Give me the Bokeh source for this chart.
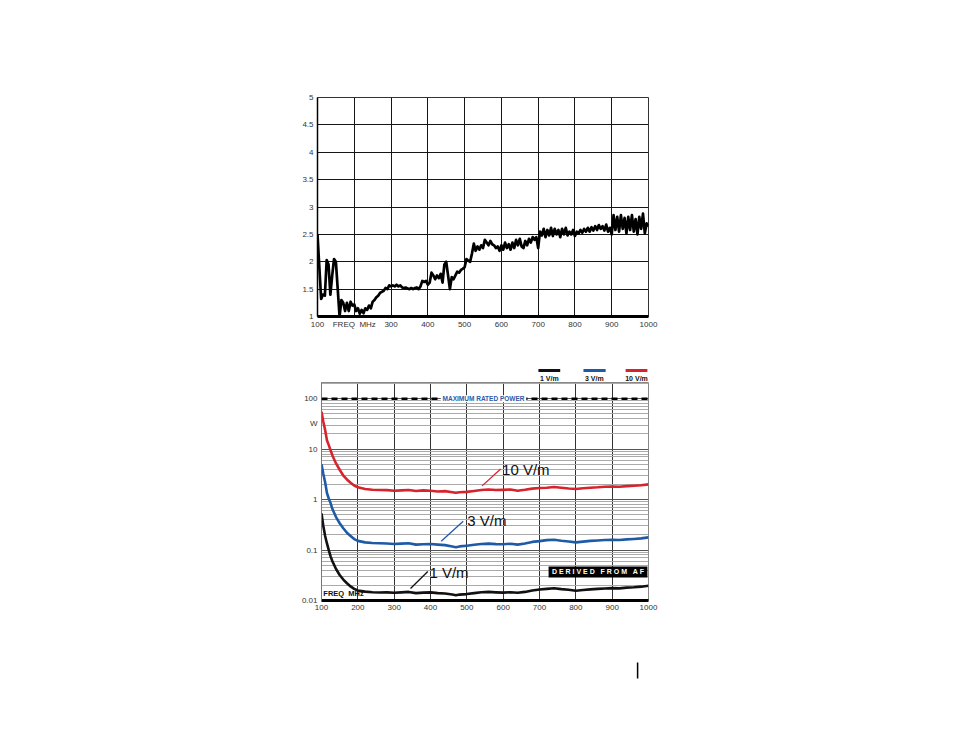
from bokeh.plotting import figure
from bokeh.layouts import column
from bokeh.models import (Range1d, FixedTicker, Label, BoxAnnotation, Span,
                          CustomJSTickFormatter)
from bokeh.core.properties import value
from bokeh.embed import file_html
from bokeh.resources import INLINE

FONT = "Liberation Sans"
NB = "\u00a0"

# ---------------- data: top chart (VSWR vs frequency) ----------------
freq_top = list(range(100, 1001, 5))
vswr_top = [
    2.50, 1.90, 1.32, 1.40, 1.38, 2.03, 1.95, 1.40, 1.75, 2.05,   # 100-145
    2.00, 1.50, 1.00, 1.30, 1.25, 1.10, 1.25, 1.10, 1.27, 1.20,   # 150-195
    1.22, 1.10, 1.15, 1.05, 1.12, 1.06, 1.15, 1.12, 1.20, 1.15,   # 200-245
    1.27, 1.30, 1.35, 1.38, 1.43, 1.45, 1.47, 1.52, 1.50, 1.57,   # 250-295
    1.55, 1.57, 1.55, 1.58, 1.55, 1.57, 1.53, 1.52, 1.53, 1.51,   # 300-345
    1.50, 1.52, 1.50, 1.52, 1.53, 1.50, 1.55, 1.65, 1.63, 1.65,   # 350-395
    1.58, 1.62, 1.80, 1.75, 1.68, 1.75, 1.70, 1.78, 1.62, 1.95,   # 400-445
    2.00, 1.75, 1.50, 1.72, 1.68, 1.75, 1.82, 1.80, 1.85, 1.87,   # 450-495
    1.90, 2.05, 2.02, 2.00, 2.15, 2.33, 2.20, 2.28, 2.22, 2.30,   # 500-545
    2.25, 2.40, 2.35, 2.30, 2.38, 2.32, 2.30, 2.25, 2.28, 2.20,   # 550-595
    2.30, 2.22, 2.35, 2.25, 2.32, 2.22, 2.35, 2.25, 2.40, 2.30,   # 600-645
    2.42, 2.28, 2.25, 2.38, 2.30, 2.42, 2.35, 2.45, 2.40, 2.45,   # 650-695
    2.25, 2.55, 2.48, 2.60, 2.45, 2.58, 2.48, 2.62, 2.47, 2.60,   # 700-745
    2.50, 2.58, 2.45, 2.60, 2.50, 2.62, 2.48, 2.55, 2.50, 2.58,   # 750-795
    2.47, 2.55, 2.52, 2.58, 2.53, 2.60, 2.55, 2.62, 2.55, 2.63,   # 800-845
    2.57, 2.65, 2.58, 2.67, 2.60, 2.65, 2.57, 2.68, 2.55, 2.62,   # 850-895
    2.50, 2.85, 2.58, 2.82, 2.55, 2.85, 2.60, 2.80, 2.52, 2.82,   # 900-945
    2.58, 2.85, 2.55, 2.78, 2.50, 2.82, 2.60, 2.88, 2.52, 2.70,   # 950-995
    2.65,                                                         # 1000
]
top_x_ticks = [100, 200, 300, 400, 500, 600, 700, 800, 900, 1000]
top_y_ticks = [1, 1.5, 2, 2.5, 3, 3.5, 4, 4.5, 5]

# ---------------- data: bottom chart (power W vs frequency) ----------------
freq_w = [100, 105, 110, 115, 120, 125, 130, 140, 150, 160, 170, 180, 190, 200,
          220, 240, 260, 280, 300, 320, 340, 360, 380, 400, 420, 440, 460,
          470, 480, 500, 520, 540, 560, 580, 600, 620, 640, 660, 680, 700,
          720, 740, 760, 780, 800, 820, 840, 860, 880, 900, 920, 940, 960,
          980, 1000]
power_10 = [55, 35, 24, 15, 12, 9.5, 7.5, 5.2, 3.9, 3.0, 2.5, 2.15, 1.9, 1.75,
            1.62, 1.57, 1.55, 1.54, 1.50, 1.52, 1.55, 1.48, 1.52, 1.50, 1.45,
            1.47, 1.40, 1.36, 1.40, 1.42, 1.48, 1.55, 1.58, 1.55, 1.56, 1.58,
            1.50, 1.56, 1.65, 1.70, 1.72, 1.78, 1.72, 1.66, 1.62, 1.68, 1.72,
            1.75, 1.80, 1.82, 1.80, 1.85, 1.88, 1.92, 2.00]
power_3 = [5.0, 3.2, 2.2, 1.35, 1.05, 0.85, 0.65, 0.45, 0.34, 0.27, 0.22, 0.19,
           0.165, 0.152, 0.142, 0.138, 0.136, 0.135, 0.132, 0.134, 0.136, 0.128,
           0.130, 0.132, 0.128, 0.125, 0.118, 0.114, 0.118, 0.122, 0.127, 0.132,
           0.134, 0.131, 0.130, 0.133, 0.128, 0.135, 0.145, 0.150, 0.157, 0.160,
           0.153, 0.148, 0.142, 0.147, 0.152, 0.155, 0.158, 0.160, 0.158, 0.163,
           0.166, 0.170, 0.178]
power_1 = [0.53, 0.30, 0.19, 0.135, 0.10, 0.075, 0.060, 0.042, 0.032, 0.026,
           0.022, 0.019, 0.017, 0.0158, 0.0150, 0.0146, 0.0144, 0.0145, 0.0142,
           0.0145, 0.0148, 0.0140, 0.0143, 0.0145, 0.0140, 0.0138, 0.0131,
           0.0127, 0.0131, 0.0134, 0.0140, 0.0146, 0.0148, 0.0145, 0.0143,
           0.0146, 0.0142, 0.0148, 0.0158, 0.0165, 0.0170, 0.0175, 0.0168,
           0.0163, 0.0156, 0.0162, 0.0166, 0.0170, 0.0173, 0.0176, 0.0174,
           0.0180, 0.0183, 0.0188, 0.0196]
series_names = ["1 V/m", "3 V/m", "10 V/m"]
series_colors = ["#111111", "#1f5aa6", "#d7232b"]
max_rated_power = 100
w_y_ticks = [0.01, 0.1, 1, 10, 100]
w_unit_tick = 31.6          # where the "W" unit sits on the power axis
w_y_minor = [m * d for d in [0.01, 0.1, 1, 10, 100] for m in range(2, 10)]


def style_axis(ax, standoff):
    ax.major_tick_line_color = None
    ax.minor_tick_line_color = None
    ax.major_tick_out = 0
    ax.major_tick_in = 0
    ax.minor_tick_out = 0
    ax.minor_tick_in = 0
    ax.major_label_text_font = FONT
    ax.major_label_text_font_size = "8px"
    ax.major_label_text_color = "#333333"
    ax.major_label_standoff = standoff


def strip(height, left, right):
    f = figure(width=946, height=height, output_backend="svg", toolbar_location=None,
               x_range=Range1d(100, 1000), y_range=Range1d(0, 1),
               x_axis_location=None, y_axis_location=None,
               min_border_left=left, min_border_right=right,
               min_border_top=0, min_border_bottom=0)
    f.grid.visible = False
    f.outline_line_color = None
    f.background_fill_color = "white"
    f.border_fill_color = "white"
    return f


# ---------------- top figure ----------------
p1 = figure(width=946, height=364, output_backend="svg", toolbar_location=None,
            x_range=Range1d(100, 1000), y_range=Range1d(1, 5),
            min_border_left=317, min_border_right=298,
            min_border_top=97, min_border_bottom=48)
p1.background_fill_color = "white"
p1.border_fill_color = "white"
p1.outline_line_color = "#333333"
p1.outline_line_width = 1

p1.xaxis.ticker = FixedTicker(ticks=top_x_ticks)
p1.xaxis.formatter = CustomJSTickFormatter(
    code="return tick == 200 ? 'FREQ\u00a0\u00a0MHz' : tick.toString();")
p1.yaxis.ticker = FixedTicker(ticks=top_y_ticks)
p1.yaxis.formatter = CustomJSTickFormatter(code="return tick.toString();")
p1.xgrid.ticker = FixedTicker(ticks=top_x_ticks)
p1.ygrid.ticker = FixedTicker(ticks=top_y_ticks)
for g in (p1.xgrid, p1.ygrid):
    g.grid_line_color = "#151515"
    g.grid_line_width = 1
style_axis(p1.xaxis, 3)
style_axis(p1.yaxis, 4)
p1.xaxis.axis_line_width = 3
p1.xaxis.axis_line_color = "black"
p1.yaxis.axis_line_width = 1.5
p1.yaxis.axis_line_color = "black"

p1.line(freq_top, vswr_top, line_color="black", line_width=2.7, line_join="round")

# ---------------- legend strip above the power chart ----------------
pl = strip(18, 321, 298)
leg_x0 = [697, 821, 937]
leg_x1 = [757, 882, 997]
leg_xc = [727, 851, 967]
pl.segment(x0=leg_x0, y0=[0.67] * 3, x1=leg_x1, y1=[0.67] * 3,
           line_color=series_colors, line_width=3)
pl.text(x=leg_xc, y=[0.22] * 3, text=series_names, text_font=value(FONT),
        text_font_size="7px", text_font_style="bold", text_color="#111111",
        text_align="center", text_baseline="middle")

# ---------------- bottom figure ----------------
p2 = figure(width=946, height=240, output_backend="svg", toolbar_location=None,
            y_axis_type="log",
            x_range=Range1d(100, 1000), y_range=Range1d(0.01, 209),
            min_border_left=321, min_border_right=298,
            min_border_top=0, min_border_bottom=22)
p2.background_fill_color = "white"
p2.border_fill_color = "white"
p2.outline_line_color = "#888888"
p2.outline_line_width = 1

p2.yaxis.ticker = FixedTicker(ticks=w_y_ticks + [w_unit_tick])
p2.yaxis.formatter = CustomJSTickFormatter(
    code="return Math.abs(tick - %s) < 0.5 ? 'W' : tick.toString();" % w_unit_tick)
p2.ygrid.ticker = FixedTicker(ticks=w_y_ticks, minor_ticks=w_y_minor)
p2.xaxis.ticker = FixedTicker(ticks=top_x_ticks)
p2.xgrid.ticker = FixedTicker(ticks=top_x_ticks)
p2.xgrid.grid_line_color = "#333333"
p2.xgrid.grid_line_width = 1
p2.ygrid.grid_line_color = "#555555"
p2.ygrid.grid_line_width = 1.2
p2.ygrid.minor_grid_line_color = "#aaaaaa"
p2.ygrid.minor_grid_line_width = 1
style_axis(p2.xaxis, 4)
style_axis(p2.yaxis, 4)
p2.xaxis.axis_line_width = 3
p2.xaxis.axis_line_color = "black"
p2.yaxis.axis_line_color = "#777777"
p2.yaxis.axis_line_width = 1

# maximum rated power dashed line
p2.add_layout(Span(location=max_rated_power, dimension="width", line_color="black",
                   line_width=2.5, line_dash="6 4"))
p2.add_layout(Label(x=546, y=max_rated_power,
                    text=NB + "MAXIMUM RATED POWER" + NB,
                    text_font=FONT, text_font_size="6.5px",
                    text_font_style="bold", text_color="#2a5ba8",
                    text_align="center", text_baseline="middle",
                    background_fill_color="white"))

# curves
for ys, col in zip([power_1, power_3, power_10], series_colors):
    p2.line(freq_w, ys, line_color=col, line_width=2.6, line_join="round")

# curve annotations with leader lines
p2.segment(x0=[542, 429.5, 345], y0=[1.87, 0.149, 0.01733],
           x1=[593, 490, 392.6], y1=[4.02, 0.372, 0.0377],
           line_color=[series_colors[2], series_colors[1], series_colors[0]],
           line_width=1.3)
for txt, x, y in [("10 V/m", 597, 4.02), ("3 V/m", 501, 0.389), ("1 V/m", 397, 0.036)]:
    p2.add_layout(Label(x=x, y=y, text=txt, text_font=FONT,
                        text_font_size="15px", text_color="#111111",
                        text_align="left", text_baseline="middle"))

# FREQ MHz inside plot
p2.add_layout(Label(x=105, y=0.0136, text="FREQ" + NB + NB + "MHz", text_font=FONT,
                    text_font_size="7.5px", text_font_style="bold",
                    text_color="#111111", text_align="left",
                    text_baseline="middle"))

# DERIVED FROM AF box
p2.add_layout(BoxAnnotation(left=725, right=997, bottom=0.0286, top=0.0474,
                            fill_color="black", fill_alpha=1, line_color=None))
derived = (NB + NB + NB).join(NB.join(w) for w in ["DERIVED", "FROM", "AF"])
p2.add_layout(Label(x=861, y=0.0368, text=derived,
                    text_font=FONT, text_font_size="7px",
                    text_font_style="bold", text_color="white",
                    text_align="center", text_baseline="middle"))

# ---------------- footer strip with page marker ----------------
pf = strip(107, 321, 298)
pf.segment(x0=[970], y0=[0.477], x1=[970], y1=[0.626], line_color="black", line_width=1.5)

figs = [p1, pl, p2, pf]
for f in figs:
    if "frame_align" in f.properties():
        f.frame_align = False

layout = column(*figs)
open("out.html", "w").write(file_html(layout, INLINE))
